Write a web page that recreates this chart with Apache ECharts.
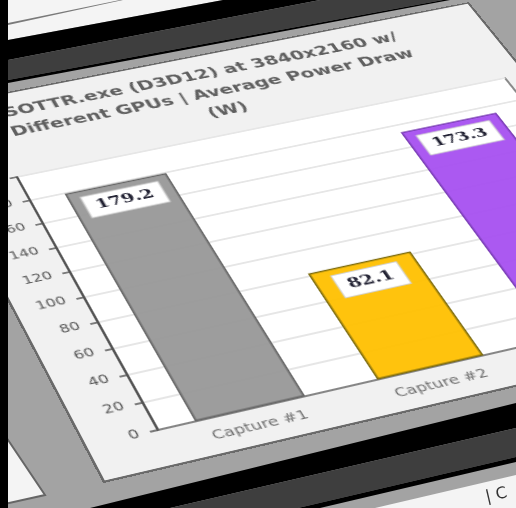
<!DOCTYPE html>
<html>
<head>
<meta charset="utf-8">
<script src="https://cdn.jsdelivr.net/npm/echarts@6/dist/echarts.min.js"></script>
<style>
html,body{margin:0;padding:0;background:#a3a3a3;overflow:hidden}
#stage{position:absolute;left:0;top:0;width:516px;height:508px;overflow:hidden;filter:blur(0.6px)}
#bg{position:absolute;left:0;top:0;width:516px;height:508px}
#plot{position:absolute;left:0;top:0;transform-origin:0 0;outline:2px solid #6a6a6a}
#strip{position:absolute;left:0;top:0;width:8px;height:508px;background:#000}
</style>
</head>
<body>
<div id="stage">
  <div id="bg"></div>
  <div id="plot"></div>
</div>
<div id="strip"></div>
<script>
const categories = ['Capture #1', 'Capture #2', 'Capture #3'];
const powerValues = [179.2, 82.1, 173.3];
const barColors = ['rgba(150,150,150,0.93)', 'rgba(255,192,0,0.95)', 'rgba(166,80,240,0.95)'];
const barBorders = ['#666666', '#7d6c10', '#7a3db5'];
const yTicks = { min: 0, max: 200, interval: 20 };
const titleLines = ['SOTTR.exe (D3D12) at 3840x2160 w/', 'Different GPUs | Average Power Draw', '(W)'];

// panel layout (flat chart, before the photographic perspective)
const W = 420, H = 295, ML = 53, MT = 103, MR = 18, MB = 35;
const LW = ML + W + MR, LH = MT + H + MB;

// where the plot corners appear in the photo
const srcPts = [[ML, MT], [ML + W, MT], [ML + W, MT + H], [ML, MT + H]];
const dstPts = [[17, 177], [505, 78], [690, 308], [158, 430]];

function homography(s, d) {
  const A = [];
  for (let i = 0; i < 4; i++) {
    const [x, y] = s[i], [u, v] = d[i];
    A.push([x, y, 1, 0, 0, 0, -u * x, -u * y, u]);
    A.push([0, 0, 0, x, y, 1, -v * x, -v * y, v]);
  }
  for (let c = 0; c < 8; c++) {
    let p = c;
    for (let r = c + 1; r < 8; r++) if (Math.abs(A[r][c]) > Math.abs(A[p][c])) p = r;
    [A[c], A[p]] = [A[p], A[c]];
    for (let r = 0; r < 8; r++) {
      if (r === c) continue;
      const f = A[r][c] / A[c][c];
      for (let k = c; k < 9; k++) A[r][k] -= f * A[c][k];
    }
  }
  return A.map((row, i) => row[8] / row[i]);
}
const h = homography(srcPts, dstPts);
const plotEl = document.getElementById('plot');
plotEl.style.width = LW + 'px';
plotEl.style.height = LH + 'px';
plotEl.style.transform = 'matrix3d(' + [h[0], h[3], 0, h[6], h[1], h[4], 0, h[7], 0, 0, 1, 0, h[2], h[5], 0, 1].join(',') + ')';

const chart = echarts.init(plotEl, null, { renderer: 'canvas', devicePixelRatio: 2 });
chart.setOption({
  animation: false,
  backgroundColor: '#f1f1f1',
  title: {
    text: titleLines.join('\n'),
    left: ML + W / 2 - 26,
    top: 7,
    textAlign: 'center',
    textStyle: { fontFamily: 'DejaVu Sans', fontWeight: 'bold', fontSize: 16.5, lineHeight: 25, color: '#606060' }
  },
  grid: { left: ML, top: MT, width: W, height: H, show: true, backgroundColor: '#ffffff', borderColor: '#666666', borderWidth: 1.5 },
  xAxis: {
    type: 'category',
    data: categories,
    axisLine: { lineStyle: { color: '#666666', width: 1.5 } },
    axisTick: { show: false },
    axisLabel: { color: '#6e6e6e', fontFamily: 'DejaVu Sans', fontSize: 12.5, margin: 11 }
  },
  yAxis: {
    type: 'value',
    min: yTicks.min,
    max: yTicks.max,
    interval: yTicks.interval,
    axisLine: { show: true, lineStyle: { color: '#555555', width: 2 } },
    axisTick: { show: true, length: 6, lineStyle: { color: '#555555', width: 1.5 } },
    axisLabel: { color: '#555555', fontFamily: 'DejaVu Sans', fontSize: 12, margin: 14, padding: [8, 0, 0, 0] },
    splitLine: { show: true, lineStyle: { color: '#e6e6e6', width: 2 } }
  },
  series: [{
    type: 'bar',
    barWidth: '60%',
    data: powerValues.map((v, i) => ({
      value: v,
      itemStyle: { color: barColors[i], borderColor: barBorders[i], borderWidth: 1.5 }
    })),
    label: {
      show: true,
      position: 'insideTop',
      distance: 8,
      formatter: p => p.value.toFixed(1),
      backgroundColor: '#ffffff',
      borderColor: '#cfcfcf',
      borderWidth: 1,
      padding: [5, 8],
      color: '#222233',
      fontFamily: 'DejaVu Serif',
      fontWeight: 'bold',
      fontSize: 15
    }
  }]
});

// the rest of the photographed screen, in picture pixels
const bgChart = echarts.init(document.getElementById('bg'), null, { renderer: 'canvas' });
const poly = (points, fill, stroke, lw) => ({
  type: 'polygon', shape: { points },
  style: { fill, stroke: stroke || null, lineWidth: lw || 0 }
});
bgChart.setOption({
  animation: false,
  backgroundColor: '#a3a3a3',
  graphic: [
    poly([[8, 0], [223, 0], [8, 40]], '#f4f4f4'),
    poly([[8, 23], [120, 0], [123, 0], [8, 25]], '#7a7a7a'),
    poly([[8, 40], [223, 0], [320, 0], [8, 60]], '#000000'),
    poly([[8, 60], [320, 0], [443, 0], [8, 80]], '#3e3e3e'),
    poly([[8, 80], [443, 0], [450, 0], [8, 83]], '#000000'),
    poly([[516, 403], [516, 428], [170, 508], [90, 508]], '#000000'),
    poly([[516, 428], [516, 457], [298, 508], [170, 508]], '#3e3e3e'),
    poly([[516, 457], [516, 462], [320, 508], [298, 508]], '#000000'),
    poly([[516, 475], [516, 508], [375, 508]], '#f4f4f4'),
    poly([[0, 428], [45, 495], [0, 505]], '#f4f4f4', '#666666', 2),
    {
      type: 'text', x: 484, y: 490, rotation: 0.23,
      style: { text: '| C', fill: '#333333', font: '16px "DejaVu Sans"' }
    }
  ]
});
</script>
</body>
</html>
